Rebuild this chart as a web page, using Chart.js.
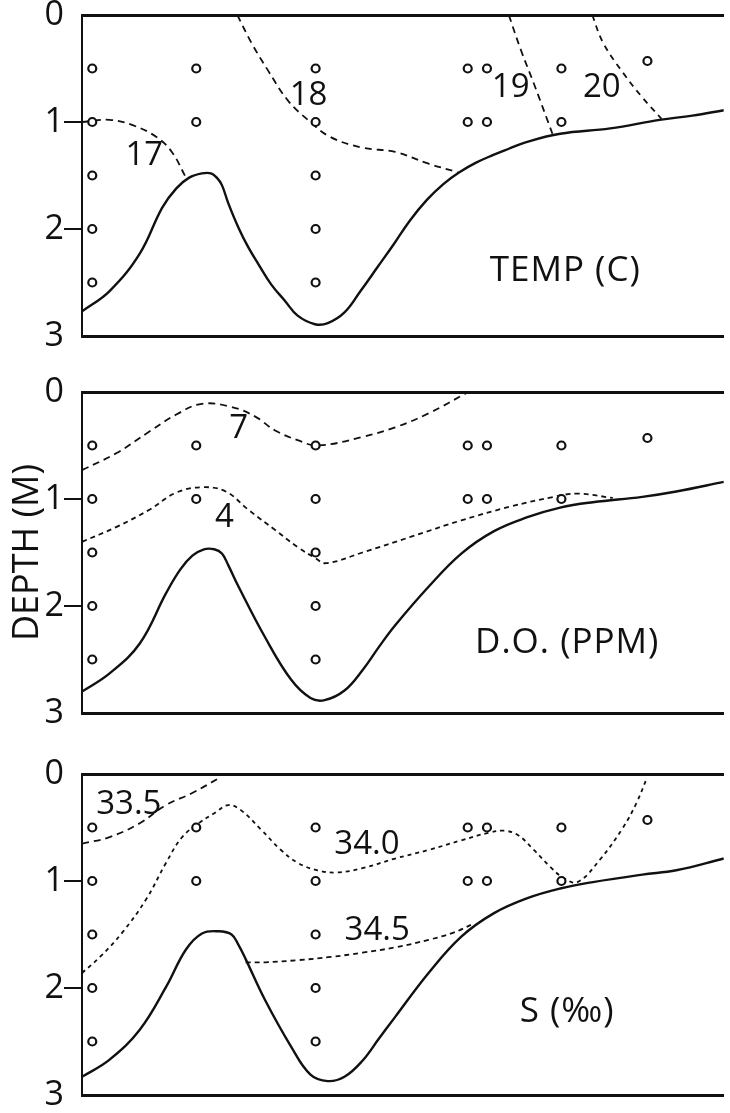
<!DOCTYPE html>
<html>
<head>
<meta charset="utf-8">
<script src="https://cdn.jsdelivr.net/npm/chart.js@4.4.1/dist/chart.umd.min.js"></script>
<style>
body { margin: 0; background: #fff; width: 730px; height: 1113px; overflow: hidden; position: relative; }
canvas { position: absolute; left: 0; }
</style>
</head>
<body>
<canvas id="chartTemp" width="730" height="380" style="top:-15px"></canvas>
<canvas id="chartDO" width="730" height="380" style="top:362px"></canvas>
<canvas id="chartSal" width="730" height="380" style="top:744px"></canvas>
<script>
// depth in metres, distance along the section in % of its length
const depthTicks = [0, 1, 2, 3];

const stationX = [1.6, 17.8, 36.4, 60.1, 63.1, 74.7, 88.1];
const stationDepths = [
  [0.5, 1, 1.5, 2, 2.5],
  [0.5, 1],
  [0.5, 1, 1.5, 2, 2.5],
  [0.5, 1],
  [0.5, 1],
  [0.5, 1],
  [0.43]
];

// bottom profile, one per panel (hand drawn, slightly different)
const bottomTemp = [[0,2.77],[4.3,2.58],[9.0,2.23],[12.5,1.80],[14.7,1.62],[16.7,1.52],[18.7,1.48],[20.1,1.48],[21.0,1.52],[21.8,1.59],[22.8,1.76],[24.4,1.99],[25.9,2.17],[27.5,2.33],[29.5,2.52],[31.6,2.67],[33.6,2.81],[36.3,2.89],[38.3,2.88],[40.9,2.78],[43.4,2.58],[46.0,2.36],[48.6,2.14],[51.1,1.92],[53.7,1.73],[56.3,1.58],[58.8,1.47],[61.4,1.38],[64.0,1.31],[66.5,1.25],[69.1,1.19],[74.5,1.11],[82.3,1.06],[90.0,0.98],[95.1,0.94],[100,0.89]];
const bottomDO = [[0,2.80],[4.3,2.63],[9.0,2.35],[13.1,1.88],[15.3,1.66],[17.2,1.53],[19.0,1.47],[20.6,1.47],[21.8,1.51],[22.8,1.62],[24.4,1.82],[28.5,2.29],[32.6,2.69],[35.6,2.86],[37.8,2.88],[40.9,2.79],[43.7,2.60],[46.3,2.38],[48.8,2.18],[54.0,1.82],[59.1,1.51],[64.2,1.30],[69.4,1.17],[74.5,1.08],[79.6,1.03],[87.3,0.98],[92.6,0.93],[100,0.84]];
const bottomSal = [[0,2.83],[4.3,2.67],[9.0,2.39],[13.1,1.99],[16.2,1.64],[18.7,1.49],[21.3,1.47],[23.3,1.50],[24.4,1.60],[25.5,1.73],[28.5,2.11],[32.6,2.55],[35.6,2.81],[38.3,2.87],[40.9,2.83],[43.7,2.68],[46.3,2.47],[48.8,2.27],[54.0,1.86],[59.1,1.52],[64.2,1.30],[69.4,1.16],[74.5,1.07],[79.6,1.01],[87.3,0.94],[92.6,0.90],[100,0.79]];

// isotherms (C)
const iso17 = [[0,1.0],[4.3,0.98],[7.9,1.03],[11.6,1.14],[14.0,1.28],[16.2,1.52]];
const iso18 = [[24.2,0],[26.4,0.26],[29.0,0.52],[32.1,0.80],[35.2,0.98],[38.7,1.14],[43.7,1.24],[48.8,1.28],[54.0,1.39],[58.6,1.47]];
const iso19 = [[66.5,0],[68.4,0.33],[70.4,0.64],[73.3,1.11]];
const iso20 = [[79.5,0],[81.2,0.26],[84.3,0.54],[87.3,0.77],[90.3,0.97]];

// dissolved oxygen (ppm)
const do7 = [[0,0.73],[5.4,0.57],[10.5,0.37],[14.7,0.21],[18.7,0.11],[23.3,0.14],[27.0,0.23],[30.1,0.36],[33.6,0.45],[36.7,0.50],[43.7,0.42],[48.8,0.33],[54.0,0.20],[59.9,0.01]];
const do4 = [[0,1.40],[5.4,1.26],[10.5,1.10],[14.7,0.94],[18.7,0.89],[22.4,0.93],[25.9,1.10],[30.1,1.29],[33.6,1.45],[36.3,1.55],[38.0,1.60],[43.7,1.50],[51.4,1.35],[59.1,1.20],[66.8,1.07],[73.5,0.98],[77.2,0.95],[82.7,0.99]];

// salinity (per mille)
const sal335 = [[0,0.65],[4.3,0.59],[9.0,0.46],[13.1,0.29],[17.1,0.18],[21.6,0.03]];
const sal340 = [[0,1.86],[2.8,1.71],[6.3,1.48],[10.0,1.17],[13.1,0.83],[15.6,0.59],[18.2,0.46],[20.8,0.36],[22.8,0.29],[24.8,0.34],[27.9,0.52],[31.0,0.71],[33.6,0.83],[36.7,0.90],[39.8,0.92],[43.7,0.88],[48.8,0.79],[54.0,0.71],[59.1,0.62],[63.3,0.55],[65.7,0.53],[67.9,0.57],[70.4,0.71],[73.0,0.87],[75.0,0.97],[77.2,1.01],[80.7,0.80],[84.3,0.50],[86.4,0.27],[88.0,0.04]];
const sal345 = [[25.5,1.76],[28.5,1.76],[33.6,1.74],[38.7,1.71],[43.7,1.67],[48.8,1.62],[54.0,1.55],[58.0,1.48],[60.6,1.41]];

// labels written on the panels
const tempText = ['17', '18', '19', '20', 'TEMP (C)'];
const tempTextX = [9.7, 35.3, 66.8, 81.0, 75.3];
const tempTextDepth = [1.31, 0.75, 0.68, 0.68, 2.39];
const doText = ['7', '4', 'D.O. (PPM)'];
const doTextX = [24.4, 22.2, 75.6];
const doTextDepth = [0.34, 1.17, 2.35];
const salText = ['33.5', '34.0', '34.5', 'S (\u2030)'];
const salTextX = [7.3, 44.4, 46.0, 75.6];
const salTextDepth = [0.29, 0.66, 1.46, 2.22];

const family = '"Open Sans", "DejaVu Sans", sans-serif';
const ink = '#111';

const samples = stationX.flatMap((x, i) => stationDepths[i].map(d => [x, d]));

const textPlugin = {
  id: 'contourText',
  afterDatasetsDraw(chart, args, opts) {
    const { ctx, scales: { x, y } } = chart;
    ctx.save();
    ctx.fillStyle = ink;
    ctx.textAlign = 'center';
    ctx.textBaseline = 'middle';
    opts.text.forEach((t, i) => {
      const big = t.length > 4;
      ctx.font = (big ? 35 : 33) + 'px ' + family;
      ctx.letterSpacing = big ? '1px' : '0px';
      ctx.fillText(t, x.getPixelForValue(opts.xs[i]), y.getPixelForValue(opts.ds[i]));
    });
    ctx.restore();
  }
};

function depthChart(id, bottom, lines, text, xs, ds, yTitle) {
  return new Chart(document.getElementById(id), {
    type: 'line',
    data: {
      datasets: [
        { data: samples, showLine: false, pointRadius: 4, pointBorderWidth: 2.2, pointBackgroundColor: '#fff', pointBorderColor: ink },
        { data: bottom, borderColor: ink, borderWidth: 2.4, pointRadius: 0, tension: 0.4 },
        ...lines.map(l => ({ data: l[0], borderColor: ink, borderWidth: 1.8, borderDash: l[1], pointRadius: 0, tension: 0.4 }))
      ]
    },
    options: {
      responsive: false,
      animation: false,
      layout: { padding: { top: 30, bottom: 29, left: 0, right: 0 } },
      plugins: {
        legend: { display: false },
        tooltip: { enabled: false },
        contourText: { text: text, xs: xs, ds: ds }
      },
      scales: {
        x: {
          type: 'linear', min: 0, max: 100,
          ticks: { display: false }, grid: { display: false },
          border: { display: true, color: ink, width: 3 },
          afterFit: s => { s.height = 0; }
        },
        xTop: {
          axis: 'x', type: 'linear', position: 'top', min: 0, max: 100,
          ticks: { display: false }, grid: { display: false },
          border: { display: true, color: ink, width: 3 },
          afterFit: s => { s.height = 0; }
        },
        y: {
          type: 'linear', reverse: true, min: 0, max: 3,
          afterBuildTicks: s => { s.ticks = depthTicks.map(v => ({ value: v })); },
          ticks: { color: ink, padding: 0, font: { family: family, size: 34, weight: 'normal' } },
          grid: {
            drawOnChartArea: false, drawTicks: true, tickLength: 18, lineWidth: 2,
            color: c => (c.tick && c.tick.value > 0 && c.tick.value < 3) ? ink : 'rgba(0,0,0,0)'
          },
          border: { display: true, color: ink, width: 2 },
          title: {
            display: !!yTitle, text: yTitle || '', color: ink,
            font: { family: family, size: 36, weight: 'normal' },
            padding: { top: 6, bottom: 0 }
          },
          afterFit: s => { s.width = 82; }
        }
      }
    },
    plugins: [textPlugin]
  });
}

depthChart('chartTemp', bottomTemp,
  [[iso17, [7, 5]], [iso18, [7, 5]], [iso19, [7, 5]], [iso20, [6, 5]]],
  tempText, tempTextX, tempTextDepth);
depthChart('chartDO', bottomDO,
  [[do7, [7, 5]], [do4, [5, 4]]],
  doText, doTextX, doTextDepth, 'DEPTH (M)');
depthChart('chartSal', bottomSal,
  [[sal335, [7, 5]], [sal340, [4, 4]], [sal345, [5, 4]]],
  salText, salTextX, salTextDepth);
</script>
</body>
</html>
